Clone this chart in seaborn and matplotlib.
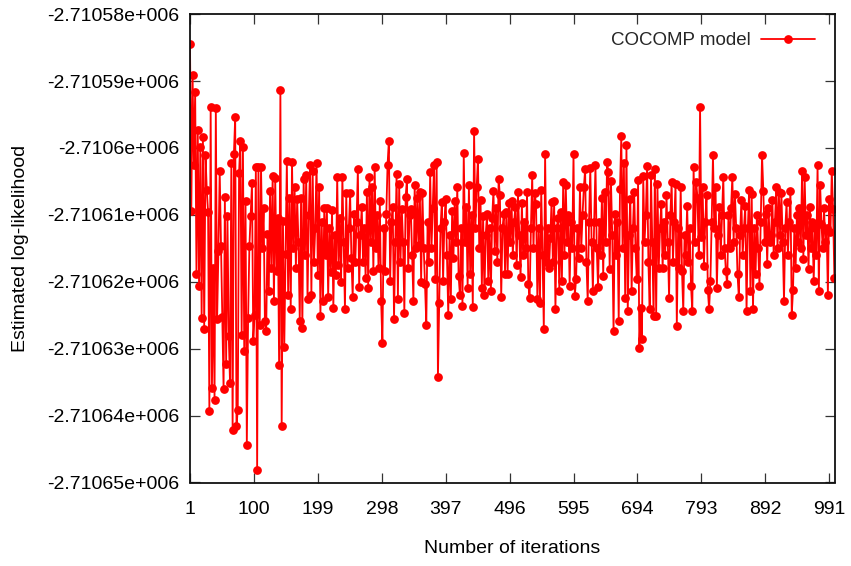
import matplotlib
matplotlib.use("Agg")
import matplotlib.pyplot as plt
import pandas as pd
import seaborn as sns
from matplotlib.ticker import FuncFormatter, FixedLocator

series_name = "COCOMP model"
x_label = "Number of iterations"
y_label = "Estimated log-likelihood"

iterations = list(range(1, 1000, 2))

loglik = [
    -2710584.4, -2710609.4, -2710589.1, -2710602.5, -2710591.6, -2710618.9, -2710597.3, -2710620.6, -2710599.9, -2710625.4, -2710598.4, -2710627.1, -2710601.0, -2710606.3, -2710609.6,
    -2710639.3, -2710593.8, -2710635.9, -2710617.9, -2710637.6, -2710594.0, -2710625.6, -2710615.4, -2710603.5, -2710614.6, -2710625.3, -2710636.0, -2710607.3, -2710632.3, -2710610.1,
    -2710628.1, -2710635.1, -2710602.2, -2710642.1, -2710600.9, -2710595.4, -2710641.6, -2710639.1, -2710603.7, -2710599.0, -2710627.9, -2710599.9, -2710630.4, -2710607.9, -2710644.4,
    -2710625.4, -2710614.6, -2710610.1, -2710605.3, -2710628.9, -2710624.9, -2710602.8, -2710648.1, -2710602.8, -2710626.4, -2710602.8, -2710614.9, -2710608.9, -2710625.9, -2710627.4,
    -2710612.9, -2710621.4, -2710606.5, -2710618.0, -2710604.2, -2710622.9, -2710604.5, -2710618.4, -2710610.4, -2710632.4, -2710591.3, -2710641.6, -2710610.9, -2710629.8, -2710615.9,
    -2710601.9, -2710621.9, -2710607.4, -2710624.1, -2710602.1, -2710615.0, -2710605.8, -2710618.0, -2710607.6, -2710614.0, -2710625.8, -2710607.4, -2710626.9, -2710604.6, -2710616.0,
    -2710604.1, -2710622.6, -2710610.0, -2710602.5, -2710621.9, -2710603.4, -2710617.0, -2710612.0, -2710602.2, -2710619.0, -2710605.9, -2710625.1, -2710611.0, -2710622.9, -2710608.9,
    -2710616.0, -2710609.0, -2710622.3, -2710612.0, -2710618.5, -2710609.3, -2710623.9, -2710613.0, -2710619.0, -2710604.3, -2710617.5, -2710610.4, -2710620.0, -2710604.3, -2710614.0,
    -2710624.1, -2710606.8, -2710618.0, -2710612.0, -2710606.8, -2710616.5, -2710622.3, -2710609.9, -2710617.0, -2710611.0, -2710603.1, -2710620.8, -2710613.0, -2710608.8, -2710617.0,
    -2710612.0, -2710619.5, -2710606.6, -2710620.9, -2710604.3, -2710614.0, -2710605.8, -2710618.4, -2710602.8, -2710615.0, -2710610.0, -2710618.0, -2710607.9, -2710622.8, -2710629.2,
    -2710612.0, -2710618.4, -2710609.9, -2710602.5, -2710598.9, -2710619.9, -2710611.0, -2710608.8, -2710625.5, -2710614.0, -2710603.9, -2710622.6, -2710605.4, -2710617.0, -2710609.1,
    -2710614.0, -2710624.6, -2710607.3, -2710604.7, -2710618.0, -2710610.0, -2710609.1, -2710616.0, -2710622.8, -2710605.5, -2710615.0, -2710607.4, -2710614.5, -2710606.6, -2710620.1,
    -2710606.8, -2710615.0, -2710620.4, -2710626.4, -2710611.0, -2710617.0, -2710603.6, -2710615.0, -2710609.0, -2710602.6, -2710619.6, -2710602.1, -2710634.3, -2710623.1, -2710612.0,
    -2710608.1, -2710619.9, -2710611.0, -2710607.6, -2710616.0, -2710624.9, -2710613.0, -2710622.6, -2710609.4, -2710616.5, -2710607.9, -2710614.0, -2710605.8, -2710619.1, -2710621.9,
    -2710612.0, -2710623.6, -2710600.8, -2710614.0, -2710608.8, -2710620.9, -2710605.6, -2710618.9, -2710610.0, -2710623.8, -2710597.4, -2710612.0, -2710605.9, -2710601.6, -2710615.0,
    -2710607.8, -2710620.9, -2710610.1, -2710621.9, -2710613.0, -2710609.9, -2710619.9, -2710612.0, -2710621.4, -2710610.4, -2710606.4, -2710615.4, -2710609.0, -2710617.0, -2710604.6,
    -2710607.1, -2710622.2, -2710612.0, -2710609.9, -2710618.8, -2710609.6, -2710618.8, -2710608.2, -2710614.0, -2710607.9, -2710616.0, -2710611.0, -2710608.8, -2710617.5, -2710606.6,
    -2710613.0, -2710619.3, -2710608.2, -2710616.0, -2710611.0, -2710615.0, -2710606.6, -2710620.4, -2710622.4, -2710612.0, -2710604.1, -2710615.0, -2710606.8, -2710608.4, -2710622.6,
    -2710612.0, -2710623.1, -2710606.3, -2710616.0, -2710627.1, -2710600.9, -2710617.0, -2710611.9, -2710618.0, -2710613.4, -2710608.0, -2710617.0, -2710607.9, -2710624.1, -2710612.0,
    -2710610.5, -2710621.4, -2710609.6, -2710619.9, -2710605.1, -2710616.0, -2710605.6, -2710614.0, -2710610.0, -2710620.6, -2710611.0, -2710615.0, -2710600.9, -2710622.1, -2710619.6,
    -2710612.0, -2710616.4, -2710605.9, -2710615.0, -2710610.0, -2710605.9, -2710603.2, -2710617.0, -2710622.9, -2710611.0, -2710603.0, -2710614.0, -2710621.4, -2710611.0, -2710602.6,
    -2710615.0, -2710620.8, -2710611.0, -2710616.0, -2710607.4, -2710619.1, -2710606.6, -2710614.0, -2710602.1, -2710603.6, -2710618.1, -2710604.9, -2710613.0, -2710627.4, -2710609.9,
    -2710616.0, -2710611.0, -2710625.9, -2710606.1, -2710598.2, -2710615.0, -2710602.2, -2710622.4, -2710599.6, -2710624.4, -2710613.0, -2710607.6, -2710621.4, -2710612.0, -2710606.6,
    -2710615.0, -2710619.6, -2710604.8, -2710629.9, -2710623.9, -2710628.6, -2710604.2, -2710614.0, -2710610.0, -2710602.7, -2710617.0, -2710624.1, -2710604.1, -2710614.0, -2710625.1,
    -2710603.2, -2710625.1, -2710605.4, -2710617.9, -2710612.0, -2710608.3, -2710618.0, -2710611.0, -2710616.0, -2710607.1, -2710614.0, -2710622.4, -2710610.0, -2710605.1, -2710617.0,
    -2710611.0, -2710605.4, -2710626.6, -2710612.0, -2710618.0, -2710605.9, -2710618.4, -2710624.4, -2710613.0, -2710616.0, -2710608.6, -2710617.0, -2710612.0, -2710620.6, -2710624.4,
    -2710602.8, -2710614.0, -2710605.1, -2710607.4, -2710616.0, -2710593.8, -2710613.3, -2710605.8, -2710617.6, -2710611.0, -2710607.1, -2710621.2, -2710624.1, -2710619.9, -2710611.0,
    -2710601.1, -2710612.0, -2710605.9, -2710620.9, -2710613.0, -2710608.8, -2710616.0, -2710610.0, -2710604.3, -2710615.0, -2710618.4, -2710620.4, -2710610.0, -2710615.0, -2710609.0,
    -2710604.3, -2710614.0, -2710606.9, -2710612.0, -2710618.9, -2710622.2, -2710613.0, -2710607.8, -2710616.0, -2710612.0, -2710608.6, -2710624.4, -2710612.0, -2710606.3, -2710621.4,
    -2710606.9, -2710624.1, -2710612.0, -2710618.9, -2710610.0, -2710615.0, -2710620.6, -2710611.0, -2710601.1, -2710606.4, -2710614.0, -2710609.9, -2710617.3, -2710608.9, -2710614.0,
    -2710613.0, -2710607.8, -2710616.0, -2710611.0, -2710605.9, -2710615.0, -2710606.6, -2710613.0, -2710606.8, -2710614.0, -2710622.8, -2710612.0, -2710608.1, -2710616.0, -2710611.0,
    -2710606.4, -2710624.9, -2710621.2, -2710612.0, -2710617.9, -2710610.0, -2710614.0, -2710608.9, -2710615.0, -2710603.4, -2710616.6, -2710604.4, -2710613.0, -2710610.0, -2710618.1,
    -2710608.8, -2710615.0, -2710611.0, -2710619.9, -2710612.0, -2710616.0, -2710602.6, -2710621.4, -2710605.6, -2710611.3, -2710615.0, -2710609.0, -2710614.0, -2710612.0, -2710621.9,
    -2710607.6, -2710612.6, -2710603.4, -2710609.1, -2710619.4,
]

x_ticks = [1, 100, 199, 298, 397, 496, 595, 694, 793, 892, 991]
y_ticks = [-2710650, -2710640, -2710630, -2710620, -2710610, -2710600, -2710590, -2710580]

sns.set_theme(style="white")
plt.rcParams["font.family"] = ["Liberation Sans", "DejaVu Sans"]

W, H = 851, 566
fig = plt.figure(figsize=(W / 100, H / 100), dpi=100)
left, right, top, bottom = 190, 835, 14.2, 482.5
ax = fig.add_axes([left / W, 1 - bottom / H, (right - left) / W, (bottom - top) / H])

df = pd.DataFrame({"iteration": iterations, "loglik": loglik})
sns.lineplot(data=df, x="iteration", y="loglik", ax=ax, color="#ff0000",
             linewidth=1.3, marker="o", markersize=6.3, markeredgewidth=0,
             markeredgecolor="#ff0000", sort=False, estimator=None,
             label=series_name)

ax.set_xlim(1, 1000)
ax.set_ylim(-2710650, -2710580)
ax.xaxis.set_major_locator(FixedLocator(x_ticks))
ax.yaxis.set_major_locator(FixedLocator(y_ticks))


def gp_fmt(v, pos):
    s = "%g" % v
    return s.replace("e+0", "e+00").replace("e-0", "e-00")


ax.yaxis.set_major_formatter(FuncFormatter(gp_fmt))
ax.tick_params(axis="both", which="major", direction="in", length=7, width=0.9,
               color="#333333", labelsize=14, labelcolor="black",
               top=True, right=True, bottom=True, left=True)
ax.tick_params(axis="y", pad=8)
ax.tick_params(axis="x", pad=13)
for sp in ax.spines.values():
    sp.set_color("#111111")
    sp.set_linewidth(1.3)
    sp.set_visible(True)

ax.set_xlabel(x_label, fontsize=14, color="black")
ax.set_ylabel(y_label, fontsize=14, color="black")
ax.xaxis.set_label_coords((512 - left) / (right - left), -(540 - bottom) / (bottom - top))
ax.yaxis.set_label_coords((29 - left) / (right - left), 0.5)

leg = ax.legend(loc="upper right", frameon=False, markerfirst=False,
                fontsize=13.5, handlelength=2.9, handletextpad=0.5,
                bbox_to_anchor=((828 - left) / (right - left), 0.99),
                borderaxespad=0.3)

fig.savefig("out.png", dpi=100)
